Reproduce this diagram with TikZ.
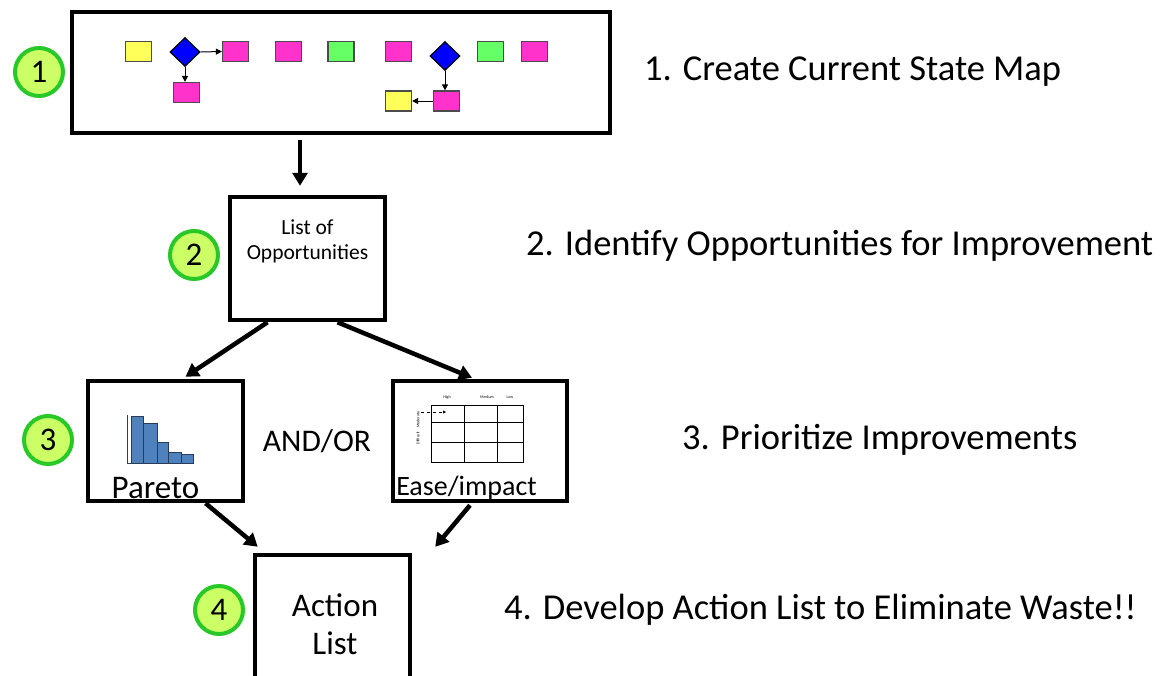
\documentclass[tikz,border=0pt]{standalone}
\usepackage{fontspec}
\setmainfont{Carlito}
\usetikzlibrary{arrows.meta,shapes.geometric,calc}

\definecolor{badgefill}{RGB}{204,255,102}
\definecolor{badgeline}{RGB}{40,200,40}
\definecolor{vsmyellow}{RGB}{255,255,90}
\definecolor{vsmpink}{RGB}{255,51,204}
\definecolor{vsmgreen}{RGB}{102,255,102}
\definecolor{vsmblue}{RGB}{0,0,255}
\definecolor{barblue}{RGB}{79,129,189}
\definecolor{bardark}{RGB}{40,60,90}

\begin{document}
\begin{tikzpicture}[x=1pt,y=-1pt,
  frame/.style={draw=black,line width=4.5pt,fill=white,inner sep=0pt},
  flowarrow/.style={line width=4.5pt,-{Triangle[length=13pt,width=15pt]}},
  badge/.style={circle,draw=badgeline,fill=badgefill,line width=4pt,
    minimum size=48pt,inner sep=0pt,font=\fontsize{33}{36}\selectfont},
  mapbox/.style={draw=black!70,line width=1.2pt,minimum width=26pt,
    minimum height=20pt,inner sep=0pt},
  mapdec/.style={diamond,draw=black,line width=1.2pt,fill=vsmblue,
    minimum width=30pt,minimum height=29pt,inner sep=0pt},
  maparrow/.style={line width=1pt,-{Triangle[length=6pt,width=6pt]}},
  steptext/.style={anchor=west,inner sep=0pt,font=\fontsize{36.5}{40}\selectfont},
  boxtext/.style={inner sep=0pt,font=\fontsize{33}{38}\selectfont}
]
\clip (0,0) rectangle (1165,675);
\useasboundingbox (0,0) rectangle (1165,675);

% ---- step 1: current state map ----
\node[frame,minimum width=538pt,minimum height=121pt] (map) at (341,72.5) {};
\node[mapbox,fill=vsmyellow] (y1) at (138.5,51.5) {};
\node[mapdec] (d1) at (185,52) {};
\node[mapbox,fill=vsmpink] (p1) at (235.5,51.5) {};
\node[mapbox,fill=vsmpink] (p2) at (186.5,92.5) {};
\node[mapbox,fill=vsmpink] (p3) at (288.5,51.5) {};
\node[mapbox,fill=vsmgreen] (g1) at (341,51.5) {};
\node[mapbox,fill=vsmpink] (p4) at (398.5,51.5) {};
\node[mapdec] (d2) at (445,56) {};
\node[mapbox,fill=vsmgreen] (g2) at (490.5,51.5) {};
\node[mapbox,fill=vsmpink] (p5) at (534.5,51.5) {};
\node[mapbox,fill=vsmpink] (p6) at (446.5,101) {};
\node[mapbox,fill=vsmyellow] (y2) at (398.5,101) {};
\draw[maparrow] (d1.east) -- (p1.west);
\draw[maparrow] (d1.south) -- (p2.north -| d1.south);
\draw[maparrow] (d2.south) -- (p6.north -| d2.south);
\draw[maparrow] (p6.west) -- (y2.east);

% ---- step 2: list of opportunities ----
\node[frame,minimum width=155pt,minimum height=123pt] (opp) at (307.5,258.5) {};
\node[font=\fontsize{21.5}{25}\selectfont,align=center,inner sep=0pt] (opptext) at (307.5,241)
  {List of\\Opportunities};

% ---- step 3: prioritisation ----
\node[frame,minimum width=155pt,minimum height=120pt] (pareto) at (165.5,441) {};
\node[boxtext] (paretotext) at (155.5,488) {Pareto};
\node[frame,minimum width=174pt,minimum height=120pt] (ease) at (480,441) {};
\node[boxtext,font=\fontsize{28}{32}\selectfont] (easetext) at (466.5,488) {Ease/impact};
\node[boxtext,font=\fontsize{31.5}{36}\selectfont] (andor) at (317,441) {AND/OR};

% pareto chart
\draw[barblue!50!black,line width=0.8pt] (127,415) -- (127,463) -- (193,463);
\foreach \xa/\xb/\top in {131/143/416, 143/157/423, 157/168/442, 168/181/452, 181/193/454}
  \draw[fill=barblue,draw=bardark,line width=1pt] (\xa,463) rectangle (\xb,\top);

% ease/impact grid
\draw[line width=0.9pt] (431,405) rectangle (523,462);
\foreach \xx in {464,497} \draw[line width=0.9pt] (\xx,405) -- (\xx,462);
\foreach \yy in {422,442} \draw[line width=0.9pt] (431,\yy) -- (523,\yy);
\node[font=\fontsize{4}{4}\selectfont] (hhigh) at (447,397) {High};
\node[font=\fontsize{4}{4}\selectfont] (hmed) at (487,397) {Medium};
\node[font=\fontsize{4}{4}\selectfont] (hlow) at (510,397) {Low};
\node[font=\fontsize{4}{4}\selectfont,rotate=90] (vlab) at (418,428) {Difficult\quad Moderate};
\draw[dashed,line width=0.5pt,-{Triangle[length=3pt,width=3pt]}] (421,412) -- (446,412);

% ---- step 4: action list ----
\node[frame,minimum width=155pt,minimum height=150pt] (action) at (332.5,630) {};
\node[boxtext,align=center] (actiontext) at (335,624) {Action\\List};

% ---- connectors ----
\draw[flowarrow] ([yshift=-5pt]map.south -| 300,0) -- ([yshift=9pt]opp.north -| 300,0);
\draw[flowarrow] ($(opp.south)+(-40,0)$) -- ($(pareto.north)+(20,-2)$);
\draw[flowarrow] ($(opp.south)+(30,0)$) -- ($(ease.north)+(-8,-1)$);
\draw[flowarrow] ($(pareto.south)+(40,0)$) -- ($(action.north west)+(5,-6)$);
\draw[flowarrow] ($(ease.south)+(-10,2)$) -- ($(action.north east)+(23,-6)$);

% ---- numbered badges ----
\node[badge] (b1) at (39,72) {1};
\node[badge] (b2) at (194,255) {2};
\node[badge] (b3) at (48,440) {3};
\node[badge] (b4) at (219,610) {4};

% ---- step descriptions ----
\node[steptext] (s1) at (644,72) {1. Create Current State Map};
\node[steptext] (s2) at (526,246) {2. Identify Opportunities for Improvement};
\node[steptext] (s3) at (682,440) {3. Prioritize Improvements};
\node[steptext] (s4) at (504,610) {4. Develop Action List to Eliminate Waste!!};
\end{tikzpicture}
\end{document}
